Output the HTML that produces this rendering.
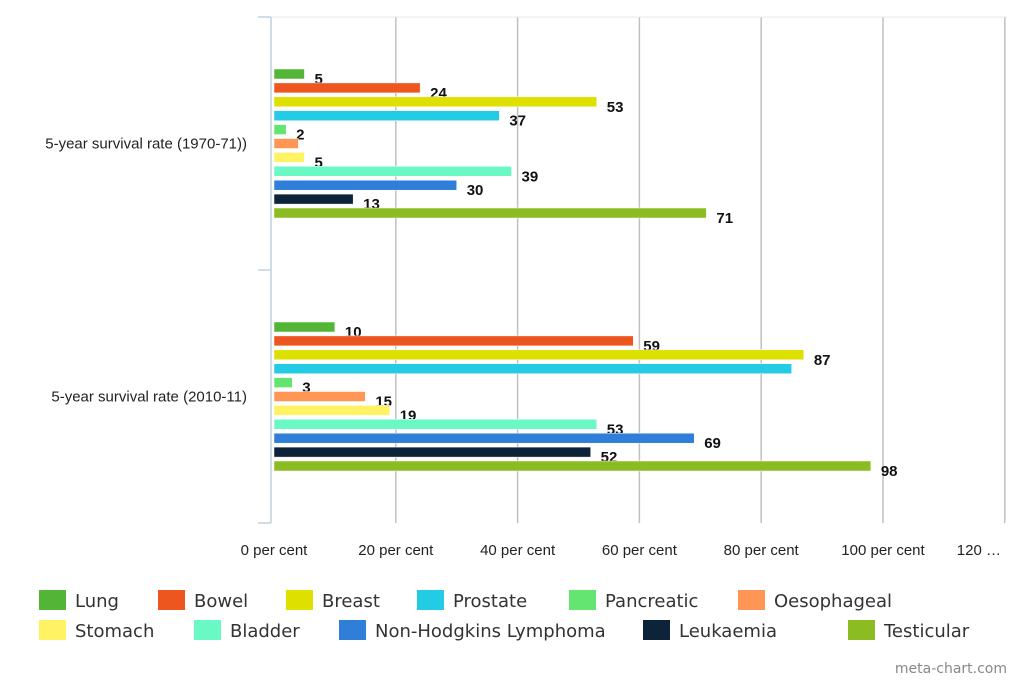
<!DOCTYPE html>
<html><head><meta charset="utf-8"><style>
html,body{margin:0;padding:0;background:#fff;width:1024px;height:683px;overflow:hidden;font-family:"Liberation Sans",sans-serif}
svg{display:block}
.leg{font-family:"DejaVu Sans",sans-serif;font-size:18px;fill:#333}
</style></head><body>
<svg id="chart" width="1024" height="683"></svg>
<script>
const categories = ["5-year survival rate (1970-71))", "5-year survival rate (2010-11)"];
const seriesNames = ["Lung","Bowel","Breast","Prostate","Pancreatic","Oesophageal","Stomach","Bladder","Non-Hodgkins Lymphoma","Leukaemia","Testicular"];
const seriesColors = ["#53b535","#ee561f","#dee000","#24cbe5","#64e572","#ff9655","#fff263","#6af9c4","#2f7ed8","#0d233a","#8bbc21"];
const values1970 = [5,24,53,37,2,4,5,39,30,13,71];
const values2010 = [10,59,87,85,3,15,19,53,69,52,98];
const labels1970 = ["5","24","53","37","2","","5","39","30","13","71"];
const labels2010 = ["10","59","87","","3","15","19","53","69","52","98"];
const tickValues = [0,20,40,60,80,100,120];
const tickLabels = ["0 per cent","20 per cent","40 per cent","60 per cent","80 per cent","100 per cent","120 …"];

const NS="http://www.w3.org/2000/svg";
const svg=document.getElementById('chart');
function mk(tag,attrs,parent){const e=document.createElementNS(NS,tag);for(const k in attrs)e.setAttribute(k,attrs[k]);(parent||svg).appendChild(e);return e;}
const x0=274, pxPer=6.09, plotTop=17, plotBottom=523;
const xs=v=>x0+v*pxPer;
const bandH=(plotBottom-plotTop)/categories.length;
tickValues.forEach((t,i)=>{
  if(i>0){const g=mk('line',{x1:xs(t),x2:xs(t),y1:plotTop,y2:plotBottom,stroke:'#c0c0c0','stroke-width':1.5});
  
  }
  const tx=mk('text',{x:xs(t),y:555,'text-anchor':i==tickValues.length-1?'end':'middle','font-size':15,fill:'#222'});
  if(i==tickValues.length-1)tx.setAttribute('x',1001);
  tx.textContent=tickLabels[i];
  
  
});
const topLine=mk('line',{x1:271,x2:1007,y1:plotTop,y2:plotTop,stroke:'#eaeaea'});


const ax=mk('line',{x1:271,x2:271,y1:plotTop,y2:plotBottom,stroke:'#c0d0e0','stroke-width':1.5});


for(let k=0;k<=categories.length;k++){const y=plotTop+k*bandH;const t=mk('line',{x1:258,x2:271,y1:y,y2:y,stroke:'#c0d0e0','stroke-width':1.5});

}
const allVals=[values1970,values2010], allLabels=[labels1970,labels2010];
const step=13.9, bh=10;
categories.forEach((c,ci)=>{
  const center=plotTop+bandH*(ci+0.5);
  const cl=mk('text',{x:247,y:center+5,'text-anchor':'end','font-size':15,fill:'#222'});
  cl.textContent=c;
  
  
  const start=center-step*(seriesNames.length-1)/2;
  seriesNames.forEach((s,si)=>{
    const v=allVals[ci][si], y=start+si*step;
    const r=mk('rect',{x:x0,y:y-bh/2,width:Math.max(0,xs(v)-x0),height:bh,fill:seriesColors[si],stroke:'#fff','stroke-width':0.5});
    
    
    const lab=allLabels[ci][si];
    if(lab){const t=mk('text',{x:xs(v)+10,y:y+10,'font-size':15,'font-weight':'bold',fill:'#111'});
    t.textContent=lab;
    
    }
  });
});
const legPos=[[39,590],[158,590],[286,590],[417,590],[569,590],[738,590],[39,620],[194,620],[339,620],[643,620],[848,620]];
seriesNames.forEach((s,i)=>{
  const [lx,ly]=legPos[i];
  const g=mk('g',{});
  
  
  mk('rect',{x:lx,y:ly,width:27,height:20,fill:seriesColors[i]},g);
  const t=mk('text',{x:lx+36,y:ly+17,class:'leg'},g);t.textContent=s;
});
const credit=mk('text',{x:1007,y:673,'text-anchor':'end','font-size':14,fill:'#888','font-family':'DejaVu Sans, sans-serif'});
credit.textContent='meta-chart.com';


</script>
</body></html>
